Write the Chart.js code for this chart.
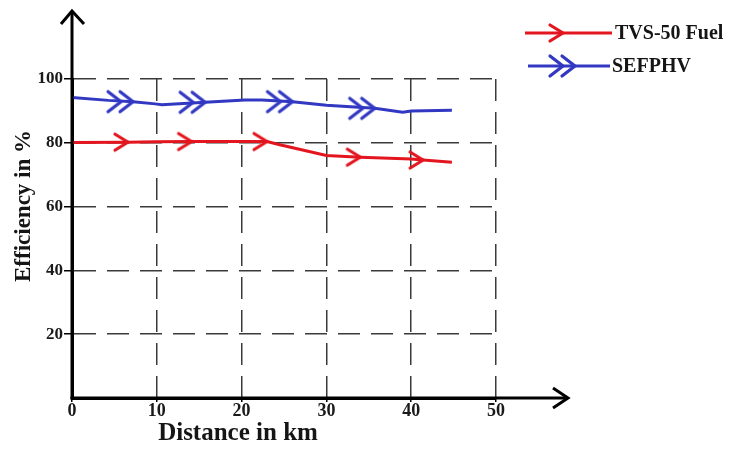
<!DOCTYPE html>
<html><head><meta charset="utf-8">
<script src="https://cdn.jsdelivr.net/npm/chart.js@4"></script>
<style>html,body{margin:0;padding:0;background:#fff}canvas{display:block}</style>
</head><body>
<canvas id="c" width="730" height="450"></canvas>
<script>
const seriesNames = ['TVS-50 Fuel', 'SEFPHV'];
const tvsKm  = [0, 6.6, 10, 14.1, 20, 23, 24.5, 30, 34, 40, 41.4, 44.8];
const tvsEff = [80.1, 80.2, 80.3, 80.4, 80.4, 80.4, 79.4, 76.0, 75.5, 74.9, 74.6, 73.9];
const tvsArrowKm = [6.6, 14.1, 23, 34, 41.4];
const sefKm  = [0, 4.3, 7.2, 9.8, 10.6, 15.7, 20.4, 22.4, 26, 30, 35.7, 39, 40, 44.8];
const sefEff = [94.2, 93.3, 92.9, 92.2, 91.9, 92.7, 93.4, 93.4, 92.9, 91.8, 90.8, 89.6, 90.0, 90.2];
const sefArrowKm = [7.2, 15.7, 26, 35.7];
const xTickStep = 10, xMin = 0, xMax = 50;
const yTickStep = 20, yMin = 0, yMax = 100;
const xTitle = 'Distance in km';
const yTitle = 'Efficiency in %';
const colors = ['#e3151f', '#3238c2'];

function chevron(color, count, armX, armY, gap) {
  const lw = 3.2;
  const w = Math.ceil(2 * (armX + (count - 1) * gap) + 8), h = Math.ceil(2 * armY + 8);
  const c = document.createElement('canvas'); c.width = w; c.height = h;
  const g = c.getContext('2d');
  g.strokeStyle = color; g.lineWidth = lw; g.lineCap = 'round'; g.lineJoin = 'round';
  for (let i = 0; i < count; i++) {
    const tx = w / 2 - i * gap, cy = h / 2;
    g.beginPath(); g.moveTo(tx - armX, cy - armY); g.lineTo(tx, cy); g.lineTo(tx - armX, cy + armY); g.stroke();
  }
  return c;
}
const chevs = [chevron(colors[0], 1, 13, 8, 0), chevron(colors[1], 2, 13, 10, 12)];
const arrowKms = [tvsArrowKm, sefArrowKm];

function pts(xs, ys) { return xs.map((x, i) => ({ x: x, y: ys[i] })); }

const serif = '"Liberation Serif", "Times New Roman", serif';

const deco = {
  id: 'deco',
  afterDraw(chart) {
    const { ctx, chartArea: a, scales: { x, y } } = chart;
    ctx.save();
    ctx.strokeStyle = '#000'; ctx.lineWidth = 3; ctx.lineCap = 'butt'; ctx.lineJoin = 'miter';
    const x0 = x.getPixelForValue(xMin), y0 = y.getPixelForValue(yMin);
    const yTop = a.top - 68, xEnd = a.right + 72;
    ctx.beginPath(); ctx.moveTo(x0, y0 + 1.5); ctx.lineTo(x0, yTop); ctx.stroke();
    ctx.beginPath(); ctx.moveTo(x0 - 11, yTop + 13); ctx.lineTo(x0, yTop); ctx.lineTo(x0 + 12, yTop + 13); ctx.stroke();
    ctx.beginPath(); ctx.moveTo(x0 - 1.5, y0); ctx.lineTo(xEnd, y0); ctx.stroke();
    ctx.beginPath(); ctx.moveTo(xEnd - 15, y0 - 10); ctx.lineTo(xEnd, y0); ctx.lineTo(xEnd - 15, y0 + 10); ctx.stroke();

    ctx.fillStyle = '#151515'; ctx.textAlign = 'center'; ctx.textBaseline = 'middle';
    ctx.font = 'bold 25px ' + serif;
    ctx.fillText(xTitle, 238, 434);
    ctx.save(); ctx.translate(24, 206); ctx.rotate(-Math.PI / 2);
    ctx.font = 'bold 23px ' + serif; ctx.fillText(yTitle, 0, 0); ctx.restore();

    // legend
    const rows = [{ y: 33, x1: 525, x2: 612, tip: 563, tx: 615 }, { y: 66, x1: 528, x2: 610, tip: 575, tx: 612 }];
    chart.data.datasets.forEach((ds, i) => {
      const r = rows[i];
      ctx.strokeStyle = ds.borderColor; ctx.lineWidth = 3;
      ctx.beginPath(); ctx.moveTo(r.x1, r.y); ctx.lineTo(r.x2, r.y); ctx.stroke();
      const im = chevs[i];
      ctx.drawImage(im, r.tip - im.width / 2, r.y - im.height / 2);
      ctx.fillStyle = '#151515'; ctx.textAlign = 'left'; ctx.textBaseline = 'middle';
      ctx.font = 'bold 20px ' + serif;
      ctx.fillText(ds.label, r.tx, r.y + 1);
    });
    ctx.restore();
  }
};

new Chart(document.getElementById('c'), {
  type: 'line',
  data: {
    datasets: [
      { label: seriesNames[0], data: pts(tvsKm, tvsEff) },
      { label: seriesNames[1], data: pts(sefKm, sefEff) }
    ].map((d, i) => Object.assign(d, {
      borderColor: colors[i], backgroundColor: colors[i], borderWidth: 3, tension: 0,
      fill: false,
      pointStyle: chevs[i],
      pointRadius: (c) => (c.raw && arrowKms[i].includes(c.raw.x)) ? 6 : 0,
      pointHoverRadius: 0
    }))
  },
  options: {
    responsive: false, animation: false, events: [],
    layout: { padding: { top: 79, right: 234, left: 0, bottom: 0 } },
    plugins: { legend: { display: false }, tooltip: { enabled: false } },
    scales: {
      x: {
        type: 'linear', min: xMin, max: xMax,
        afterFit: (s) => { s.height = 52; },
        ticks: { stepSize: xTickStep, color: '#1a1a1a', padding: -1, font: { family: serif, weight: 'bold', size: 18 } },
        grid: { color: '#3a3a3a', lineWidth: 1.5, tickLength: 4, tickColor: '#000', tickWidth: 1.5 },
        border: { display: true, color: '#000', width: 3, dash: [22, 11] }
      },
      y: {
        type: 'linear', min: yMin, max: yMax,
        afterFit: (s) => { s.width = 72; },
        ticks: { stepSize: yTickStep, color: '#1a1a1a', padding: 1, font: { family: serif, weight: 'bold', size: 17 },
          callback: (v) => v === 0 ? '' : v },
        grid: { color: '#3a3a3a', lineWidth: 1.5, tickLength: 8, tickWidth: 1.5,
          tickColor: (c) => (c.tick && c.tick.value === 0) ? 'rgba(0,0,0,0)' : '#000' },
        border: { display: true, color: '#000', width: 3, dash: [22, 11] }
      }
    }
  },
  plugins: [deco]
});
</script>
</body></html>
